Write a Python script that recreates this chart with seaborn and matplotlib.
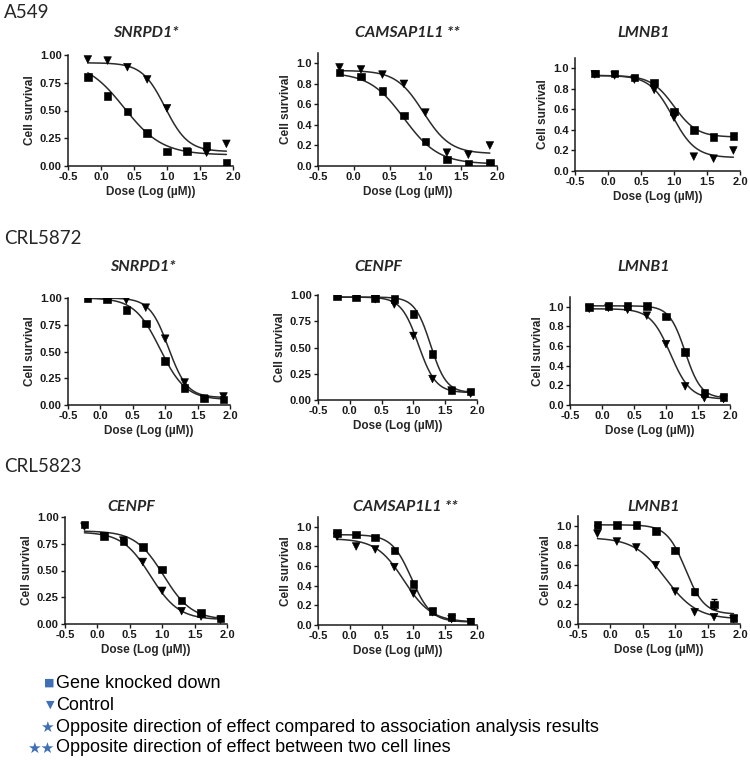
import numpy as np
import pandas as pd
import matplotlib
matplotlib.use("Agg")
import matplotlib.pyplot as plt
import seaborn as sns

# %%
# doses used in every panel (log uM)
dose = [-0.2, 0.1, 0.4, 0.7, 1.0, 1.3, 1.6, 1.9]

# A549
a549_snrpd1_kd = [0.80, 0.63, 0.49, 0.30, 0.13, 0.13, 0.18, 0.03]
a549_snrpd1_ctrl = [0.96, 0.95, 0.89, 0.78, 0.52, 0.13, 0.12, 0.20]
a549_camsap_kd = [0.91, 0.87, 0.73, 0.49, 0.24, 0.065, 0.02, 0.03]
a549_camsap_ctrl = [0.96, 0.94, 0.89, 0.80, 0.52, 0.13, 0.11, 0.20]
a549_lmnb1_kd = [0.95, 0.95, 0.91, 0.86, 0.58, 0.40, 0.33, 0.34]
a549_lmnb1_ctrl = [0.94, 0.93, 0.89, 0.79, 0.52, 0.14, 0.12, 0.20]

# CRL5872
crl5872_snrpd1_kd = [1.00, 0.99, 0.89, 0.76, 0.41, 0.16, 0.06, 0.05]
crl5872_snrpd1_ctrl = [1.00, 1.00, 0.98, 0.91, 0.62, 0.21, 0.06, 0.08]
crl5872_cenpf_kd = [0.99, 0.98, 0.97, 0.96, 0.82, 0.44, 0.09, 0.08]
crl5872_cenpf_ctrl = [0.99, 0.98, 0.96, 0.91, 0.61, 0.20, 0.09, 0.06]
crl5872_lmnb1_kd = [1.00, 1.01, 1.01, 1.01, 0.90, 0.54, 0.12, 0.08]
crl5872_lmnb1_ctrl = [0.98, 0.99, 0.97, 0.91, 0.62, 0.19, 0.07, 0.06]

# CRL5823
crl5823_cenpf_kd = [0.93, 0.82, 0.77, 0.72, 0.51, 0.22, 0.10, 0.05]
crl5823_cenpf_ctrl = [0.91, 0.82, 0.78, 0.58, 0.31, 0.12, 0.07, 0.04]
crl5823_camsap_kd = [0.94, 0.92, 0.89, 0.76, 0.42, 0.14, 0.08, 0.03]
crl5823_camsap_ctrl = [0.90, 0.80, 0.77, 0.59, 0.32, 0.13, 0.06, 0.03]
crl5823_lmnb1_kd = [1.01, 1.01, 1.01, 0.95, 0.75, 0.33, 0.20, 0.06]
crl5823_lmnb1_ctrl = [0.92, 0.84, 0.78, 0.60, 0.33, 0.12, 0.07, 0.05]
crl5823_lmnb1_kd_err = [0.0, 0.0, 0.0, 0.0, 0.02, 0.03, 0.05, 0.02]

# fitted dose-response curves: top, bottom, logEC50, hill
fits = {
    "a549_snrpd1": [(0.95, 0.10, 0.35, 1.5), (0.93, 0.13, 0.97, 2.5)],
    "a549_camsap": [(0.91, 0.02, 0.70, 1.8), (0.93, 0.12, 0.97, 2.3)],
    "a549_lmnb1": [(0.93, 0.33, 1.00, 2.5), (0.93, 0.13, 0.98, 2.5)],
    "crl5872_snrpd1": [(1.00, 0.05, 0.92, 2.2), (1.00, 0.07, 1.05, 3.0)],
    "crl5872_cenpf": [(0.98, 0.07, 1.27, 3.5), (0.98, 0.07, 1.08, 3.2)],
    "crl5872_lmnb1": [(1.01, 0.07, 1.30, 3.5), (0.98, 0.06, 1.07, 2.8)],
    "crl5823_cenpf": [(0.87, 0.04, 1.02, 2.0), (0.86, 0.04, 0.82, 2.0)],
    "crl5823_camsap": [(0.92, 0.03, 0.97, 2.8), (0.88, 0.03, 0.85, 2.0)],
    "crl5823_lmnb1": [(1.01, 0.10, 1.16, 3.0), (0.88, 0.05, 0.85, 1.8)],
}

row_labels = ["A549", "CRL5872", "CRL5823"]
titles = [
    ["SNRPD1*", "CAMSAP1L1 **", "LMNB1"],
    ["SNRPD1*", "CENPF", "LMNB1"],
    ["CENPF", "CAMSAP1L1 **", "LMNB1"],
]
legend_labels = [
    "Gene knocked down",
    "Control",
    "Opposite direction of effect compared to association analysis results",
    "Opposite direction of effect between two cell lines",
]

# %%
W, H = 750, 762
fig = plt.figure(figsize=(W / 100, H / 100), dpi=100)
sns.set_style("ticks")
plt.rcParams["font.family"] = ["Liberation Sans", "DejaVu Sans"]

panels = [
    # key, kd, ctrl, box (x0, x1, ytop, ybottom) in px, ymax, title x
    ("a549_snrpd1", a549_snrpd1_kd, a549_snrpd1_ctrl, (68, 233, 55, 166), 1.0, 146),
    ("a549_camsap", a549_camsap_kd, a549_camsap_ctrl, (318, 497, 53, 166), 1.1, 407),
    ("a549_lmnb1", a549_lmnb1_kd, a549_lmnb1_ctrl, (575, 740, 58, 171), 1.1, 644),
    ("crl5872_snrpd1", crl5872_snrpd1_kd, crl5872_snrpd1_ctrl, (68, 230, 298, 405), 1.0, 143),
    ("crl5872_cenpf", crl5872_cenpf_kd, crl5872_cenpf_ctrl, (318, 477, 295, 400), 1.0, 378),
    ("crl5872_lmnb1", crl5872_lmnb1_kd, crl5872_lmnb1_ctrl, (570, 730, 297, 405), 1.1, 644),
    ("crl5823_cenpf", crl5823_cenpf_kd, crl5823_cenpf_ctrl, (65, 227, 517, 624), 1.0, 131),
    ("crl5823_camsap", crl5823_camsap_kd, crl5823_camsap_ctrl, (318, 477, 517, 625), 1.1, 405),
    ("crl5823_lmnb1", crl5823_lmnb1_kd, crl5823_lmnb1_ctrl, (578, 740, 516, 624), 1.1, 654),
]
title_y = [33, 267, 507]
row_label_y = [12, 238, 467]

xs = np.linspace(-0.2, 1.9, 200)


def logistic(x, top, bottom, ec50, hill):
    return bottom + (top - bottom) / (1 + 10 ** ((x - ec50) * hill))


for i, (key, kd, ctrl, box, ymax, tx) in enumerate(panels):
    x0, x1, y0, y1 = box
    ax = fig.add_axes([x0 / W, 1 - y1 / H, (x1 - x0) / W, (y1 - y0) / H])

    df = pd.DataFrame({
        "dose": dose * 2,
        "survival": kd + ctrl,
        "group": ["kd"] * len(dose) + ["ctrl"] * len(dose),
    })
    for p in fits[key]:
        sns.lineplot(x=xs, y=logistic(xs, *p), color="#2b2b2b", lw=1.1, ax=ax)
    if key == "crl5823_lmnb1":
        ax.errorbar(dose, kd, yerr=crl5823_lmnb1_kd_err, fmt="none",
                    ecolor="black", elinewidth=1, capsize=2.5)
    sns.scatterplot(data=df, x="dose", y="survival", style="group",
                    markers={"kd": "s", "ctrl": "v"}, color="black",
                    s=30, edgecolor="black", legend=False, ax=ax, zorder=3)

    ax.set_xlim(-0.5, 2.0)
    ax.set_ylim(0, ymax)
    ax.set_xticks([-0.5, 0.0, 0.5, 1.0, 1.5, 2.0])
    ax.set_xticklabels(["-0.5", "0.0", "0.5", "1.0", "1.5", "2.0"])
    if ymax == 1.0:
        yt = [0, 0.25, 0.5, 0.75, 1.0]
        ax.set_yticks(yt)
        ax.set_yticklabels([f"{v:.2f}" for v in yt])
    else:
        yt = [0, 0.2, 0.4, 0.6, 0.8, 1.0]
        ax.set_yticks(yt)
        ax.set_yticklabels([f"{v:.1f}" for v in yt])
    ax.tick_params(length=3, width=1, pad=1.5, labelsize=8, colors="#1a1a1a")
    for lab in ax.get_xticklabels() + ax.get_yticklabels():
        lab.set_fontweight("bold")
    for s in ["left", "bottom"]:
        ax.spines[s].set_linewidth(1.1)
        ax.spines[s].set_color("#1a1a1a")
    sns.despine(ax=ax)
    ax.set_xlabel("Dose (Log (\u00b5M))", fontsize=8.5, fontweight="bold", labelpad=3)
    ax.set_ylabel("Cell survival", fontsize=8.5, fontweight="bold", labelpad=3)

    r, c = divmod(i, 3)
    fig.text(tx / W, 1 - title_y[r] / H, titles[r][c], ha="center", va="center",
             fontsize=11.5, fontweight="bold", style="italic",
             family=["Lato", "DejaVu Sans"])

for r, lab in enumerate(row_labels):
    fig.text(4 / W, 1 - row_label_y[r] / H, lab, ha="left", va="center",
             fontsize=13.5, family=["Lato", "DejaVu Sans"])

# legend at the bottom, drawn as text
legend_symbols = ["\u25a0", "\u25bc", "\u2605", "\u2605\u2605"]
legend_sizes = [8, 8, 11, 11]
legend_y = [683, 705, 727, 748]
for sym, sz, lab, y in zip(legend_symbols, legend_sizes, legend_labels, legend_y):
    fig.text(54 / W, 1 - y / H, sym, ha="right", va="center", fontsize=sz,
             color="#3f6fb5", family=["DejaVu Sans"])
    fig.text(56 / W, 1 - y / H, lab, ha="left", va="center", fontsize=13,
             color="black")

fig.savefig("out.png", dpi=100)
